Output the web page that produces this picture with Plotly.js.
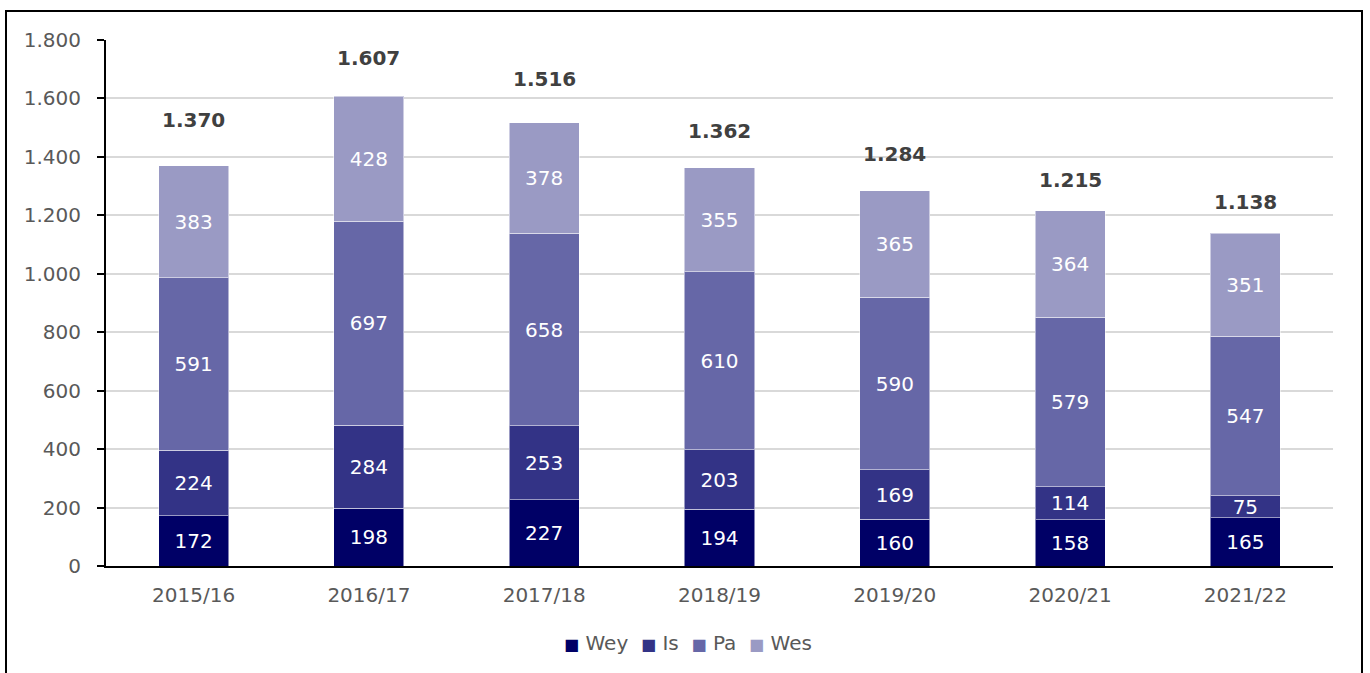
<!DOCTYPE html>
<html><head><meta charset="utf-8">
<script src="https://cdn.plot.ly/plotly-3.0.1.min.js"></script>
<style>
body{margin:0;padding:0;background:#fff;}
#wrap{position:relative;width:1370px;height:673px;overflow:hidden;}
#chart{position:absolute;left:0;top:0;width:1370px;height:673px;}
#frame{position:absolute;left:5px;top:10px;width:1354px;height:700px;border:2px solid #000;pointer-events:none;}
</style></head>
<body><div id="wrap"><div id="chart"></div><div id="frame"></div></div>
<script>
const categories = ["2015/16","2016/17","2017/18","2018/19","2019/20","2020/21","2021/22"];
const wey = [172,198,227,194,160,158,165];
const is_ = [224,284,253,203,169,114,75];
const pa  = [591,697,658,610,590,579,547];
const wes = [383,428,378,355,365,364,351];
const totals = [1370,1607,1516,1362,1284,1215,1138];
const seriesNames = ["Wey","Is","Pa","Wes"];
const colors = ["#000066","#333386","#6667a7","#9a9ac4"];
// pixel offsets of total labels above bar tops (style)
const labelShift = [46,38,44,37,37,31,31];

const FONT = "DejaVu Sans, Verdana, sans-serif";
const series = [wey,is_,pa,wes];
const fmt = v => v.toLocaleString('de-DE');
const traces = series.map((vals,i)=>({
  type:'bar', name:seriesNames[i], x:categories, y:vals,
  marker:{color:colors[i], line:{color:'rgba(255,255,255,0.5)', width:1}},
  text:vals.map(fmt), textposition:'inside', insidetextanchor:'middle',
  constraintext:'none', textangle:0,
  textfont:{color:'#ffffff', size:20, family:FONT},
  hoverinfo:'skip', showlegend:false
}));

const annotations = categories.map((c,i)=>({
  x:c, y:totals[i], xref:'x', yref:'y', text:'<b>'+fmt(totals[i])+'</b>',
  showarrow:false, yshift:labelShift[i], font:{size:20, color:'#404040', family:FONT}
}));

// compact legend drawn as one text line
const legendText = seriesNames.map((n,i)=>
  '<span style="color:'+colors[i]+';font-size:16px">■</span> '+n).join('\u00a0\u00a0');
annotations.push({
  xref:'paper', yref:'paper', x:0.474, y:-0.146, xanchor:'center', yanchor:'middle',
  text:legendText, showarrow:false, font:{size:20, color:'#595959', family:FONT}
});

const layout = {
  width:1370, height:673, barmode:'stack', bargap:0.6,
  separators:',.',
  margin:{l:106, r:37, t:40, b:107},
  paper_bgcolor:'rgba(0,0,0,0)', plot_bgcolor:'#ffffff',
  font:{family:FONT, color:'#595959', size:20},
  xaxis:{showline:true, linecolor:'#000', linewidth:2, ticks:'', tickfont:{size:20, color:'#595959'},
         ticklabelstandoff:10, fixedrange:true},
  yaxis:{range:[0,1800], dtick:200, tickformat:',d', showline:true, linecolor:'#000', linewidth:2,
         ticks:'outside', ticklen:7, tickwidth:2, tickcolor:'#000', gridcolor:'#d9d9d9', gridwidth:2,
         zeroline:false, tickfont:{size:20, color:'#595959'}, ticklabelstandoff:12},
  annotations:annotations,
  showlegend:false
};
Plotly.newPlot('chart', traces, layout, {staticPlot:true, displayModeBar:false});
</script></body></html>
